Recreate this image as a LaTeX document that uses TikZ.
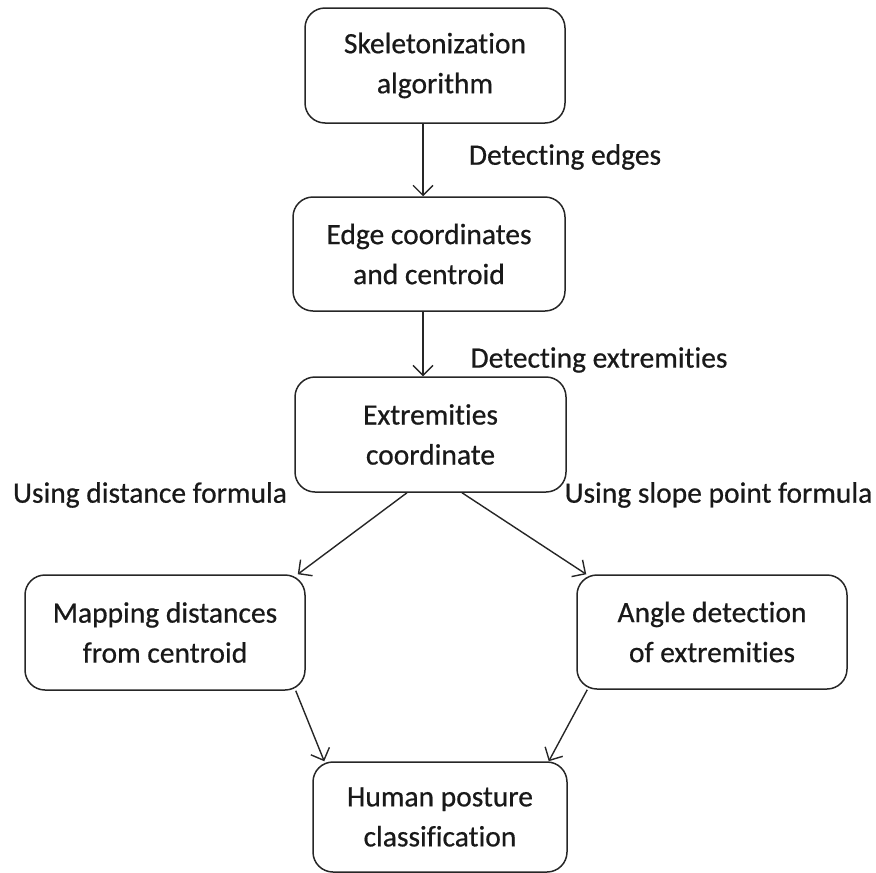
\documentclass[tikz,border=0pt]{standalone}
\usepackage{fontspec}
\setmainfont{Carlito}[Ligatures=NoCommon, FakeBold=0.6]
\usetikzlibrary{arrows.meta}
\tikzset{
  box/.style={draw=black!85, line width=1.5pt, rounded corners=20pt, align=center,
    font=\fontsize{29.5}{40}\selectfont, text=black!90, inner sep=0pt},
  lbl/.style={font=\fontsize{29.5}{40}\selectfont, text=black!90, inner sep=0pt},
  conn/.style={draw=black!85, line width=1.4pt, -{Straight Barb[length=10pt,width=20pt,line width=1.4pt]}}
}
\begin{document}
\begin{tikzpicture}[x=1pt,y=-1pt]
\useasboundingbox (0,0) rectangle (876,873);
\node[box, minimum width=260pt, minimum height=115pt] (b1) at (435,65.5) {Skeletonization\\algorithm};
\node[box, minimum width=272pt, minimum height=114pt] (b2) at (429,254) {Edge coordinates\\and centroid};
\node[box, minimum width=271pt, minimum height=115pt] (b3) at (430.5,434.5) {Extremities\\coordinate};
\node[box, minimum width=280pt, minimum height=115pt] (b4) at (165,632.5) {Mapping distances\\from centroid};
\node[box, minimum width=270pt, minimum height=114pt] (b5) at (712,632) {Angle detection\\of extremities};
\node[box, minimum width=254pt, minimum height=110pt] (b6) at (440,817) {Human posture\\classification};

\node[lbl] (l1) at (565,157) {Detecting edges};
\node[lbl] (l2) at (599,360) {Detecting extremities};
\node[lbl] (l3) at (150,495) {Using distance formula};
\node[lbl] (l4) at (718.5,495) {Using slope point formula};

\draw[conn] ([xshift=-12pt]b1.south) -- ([xshift=-6pt]b2.north);
\draw[conn] ([xshift=-6pt]b2.south) -- ([xshift=-7.5pt]b3.north);
\draw[conn] ([xshift=-23.5pt]b3.south) -- ([xshift=-8pt]b4.north east);
\draw[conn] ([xshift=31.5pt]b3.south) -- ([xshift=10pt]b5.north west);
\draw[conn] ([xshift=-10pt]b4.south east) -- ([xshift=12pt]b6.north west);
\draw[conn] ([xshift=11pt]b5.south west) -- ([xshift=-19pt]b6.north east);
\end{tikzpicture}
\end{document}
